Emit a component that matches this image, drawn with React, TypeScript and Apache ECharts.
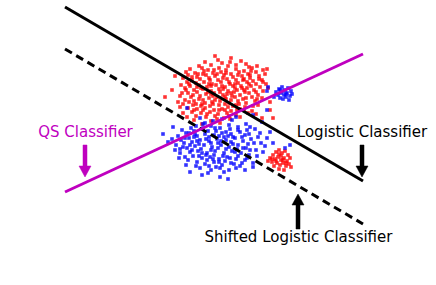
import React, { useEffect, useRef } from "react";
import * as echarts from "echarts";

// Point clouds, in picture units (x right, y down)
const redMain: number[][] = [
  [215,56],[231,58],[205,62],[222,63],[241,61],[199,66],[211,65],[228,66],[246,64],[257,66],
  [190,69],[202,68],[208,70],[219,68],[226,70],[236,69],[244,71],[252,68],[263,70],[267,69],
  [186,72],[195,73],[204,71],[213,73],[221,72],[231,74],[239,72],[248,74],[256,72],[265,74],
  [175,76],[188,75],[197,77],[206,75],[215,76],[224,75],[233,77],[242,76],[250,78],[259,76],
  [183,78],[192,80],[200,79],[209,78],[218,80],[227,79],[236,80],[244,79],[253,81],[262,80],
  [187,82],[196,83],[204,82],[212,84],[221,82],[230,84],[238,83],[247,82],[256,84],[263,82],
  [181,85],[190,86],[199,85],[207,87],[216,85],[225,87],[233,86],[242,88],[251,86],[260,87],
  [172,90],[185,88],[194,90],[203,89],[211,91],[219,89],[228,91],[237,90],[245,92],[254,90],[268,88],
  [188,93],[197,92],[206,94],[214,93],[223,95],[231,93],[240,95],[249,93],[258,95],
  [180,96],[191,97],[200,96],[209,98],[217,97],[226,99],[235,97],[243,99],[252,97],[262,98],
  [165,97],[185,100],[194,101],[203,100],[212,102],[220,101],[229,103],[238,101],[246,103],[255,101],[270,102],
  [183,104],[193,105],[202,104],[210,106],[219,105],[228,107],[236,105],[245,107],[258,105],
  [188,108],[197,109],[205,108],[214,110],[222,109],[231,111],[240,109],[252,111],
  [180,107],[192,112],[201,113],[210,112],[218,114],[227,113],[236,115],[248,113],[270,110],
  [183,113],[196,116],[206,117],[215,116],[224,118],[240,117],[256,114],
  [194,120],[211,121],[230,119],[262,118],[273,118],[202,124],[220,123],
  [198,74],[210,80],[222,86],[234,92],[246,98],[201,88],[213,96],[225,104],[237,110],[249,84],
  [217,74],[229,82],[241,86],[205,103],[193,95],[189,84],[219,110],[231,100],[243,80],[253,106],
  [211,86],[223,78],[235,88],[208,92],[196,104],[227,94],[239,104],[215,100],[203,110],[250,75],
  [192,77],[203,74],[214,70],[226,73],[238,75],[251,71],[259,79],[186,90],[197,87],[209,84],
  [220,92],[232,96],[244,90],[256,92],[199,99],[211,94],[223,89],[235,84],[247,88],[257,99],
  [189,102],[201,106],[213,104],[225,97],[233,106],[244,110],[207,114],[217,119],[229,116],[194,110],
  [263,91],[266,84],[230,62],[218,60],[236,65],[249,67],[182,93],[178,102],[187,117],[225,110],
];

const redSmall: number[][] = [
  [270,158],[273,155],[276,152],[279,150],[282,153],[285,151],[288,155],[272,162],[275,159],[278,157],
  [281,160],[284,158],[287,161],[290,158],[274,166],[277,163],[280,165],[283,163],[286,166],[289,164],
  [279,169],[284,170],[291,167],[268,161],[281,156],[276,161],[283,160],[279,154],[286,163],[272,159],
];

const blueMain: number[][] = [
  [163,134],[173,127],[182,130],[187,108],[200,118],[213,121],[222,119],[236,117],[253,115],[262,122],[267,110],[268,87],[267,91],
  [178,136],[186,133],[194,131],[203,128],[211,126],[220,128],[229,125],[238,127],[246,124],[255,129],
  [181,140],[189,138],[197,136],[205,134],[214,135],[222,133],[231,134],[240,132],[249,134],[258,137],[267,138],
  [176,145],[184,143],[192,142],[200,140],[209,141],[217,139],[226,140],[235,138],[243,141],[251,139],[261,143],[273,143],
  [187,148],[195,146],[204,145],[212,147],[221,145],[229,147],[238,145],[246,148],[256,150],
  [180,153],[190,152],[198,151],[207,153],[215,151],[224,153],[232,151],[241,153],[249,155],[285,148],[290,145],
  [179,158],[185,157],[193,156],[202,158],[210,157],[219,159],[227,157],[236,159],[245,160],[253,163],
  [197,162],[205,164],[214,162],[222,165],[231,163],[240,166],
  [200,168],[211,170],[220,168],[229,170],[245,170],[253,167],
  [202,175],[208,173],[220,177],[228,179],[190,172],
  [196,126],[208,131],[219,136],[231,142],[243,148],[199,144],[211,150],[223,156],[235,152],[194,137],
  [206,139],[218,143],[230,129],[242,137],[189,133],[213,159],[225,161],[201,149],[216,131],[228,136],
  [238,156],[206,155],[218,148],[192,150],[233,144],[248,144],[183,147],[224,137],[211,143],[199,156],
  [257,156],[263,152],[270,132],[265,146],[247,130],[234,164],[216,167],[186,165],[175,150],[168,142],
  [191,128],[203,124],[215,128],[226,132],[238,130],[250,127],[185,138],[197,141],[209,137],[221,141],
  [233,137],[245,135],[254,143],[180,149],[190,145],[202,153],[214,155],[226,149],[237,149],[250,150],
  [188,160],[196,166],[207,160],[219,162],[230,158],[242,163],[209,166],[224,172],[236,168],[195,134],
  [247,158],[260,133],[172,139],[205,123],[232,120],
];

const blueSmall: number[][] = [
  [276,92],[279,89],[282,87],[285,90],[288,88],[291,91],[278,95],[281,93],[284,95],[287,93],
  [290,96],[280,98],[283,99],[286,97],[289,100],[274,97],[292,94],[283,91],[280,90],[286,94],
];

// Classifier lines (end points)
const logisticLine: number[][] = [[65, 7], [363, 181]];
const shiftedLine: number[][] = [[65, 49], [363, 224]];
const qsLine: number[][] = [[65, 192], [363, 54]];

// Annotation arrows: [x, tail y, tip y, colour index]
const arrows: number[][] = [
  [85, 145, 177, 0],
  [362, 145, 177, 1],
  [298, 229, 194, 1],
];
const arrowColors = ["#BF00BF", "#000000"];

const labels = [
  { text: "QS Classifier", x: 85.5, y: 132, color: "#BF00BF" },
  { text: "Logistic Classifier", x: 362, y: 132, color: "#000000" },
  { text: "Shifted Logistic Classifier", x: 298.5, y: 237, color: "#000000" },
];

const W = 436;
const H = 285;

export default function App() {
  const ref = useRef<HTMLDivElement>(null);
  useEffect(() => {
    if (!ref.current) return;
    const chart = echarts.init(ref.current, undefined, { renderer: "svg" });
    const scatter = (data: number[][], color: string) => ({
      type: "scatter",
      data,
      symbol: "rect",
      symbolSize: 3.6,
      itemStyle: { color },
      silent: true,
    });
    const line = (data: number[][], color: string, dashed: boolean) => ({
      type: "line",
      data,
      symbol: "none",
      lineStyle: { color, width: 3, type: dashed ? [8, 5] : "solid", cap: "butt" },
      silent: true,
    });
    chart.setOption({
      animation: false,
      grid: { left: 0, top: 0, right: 0, bottom: 0 },
      xAxis: { type: "value", min: 0, max: W, show: false },
      yAxis: { type: "value", min: 0, max: H, inverse: true, show: false },
      series: [
        scatter(redMain, "#FF0000"),
        scatter(redSmall, "#FF0000"),
        scatter(blueMain, "#0000FF"),
        scatter(blueSmall, "#0000FF"),
        line(logisticLine, "#000000", false),
        line(shiftedLine, "#000000", true),
        line(qsLine, "#BF00BF", false),
        {
          type: "custom",
          data: arrows,
          silent: true,
          renderItem: (params: any, api: any) => {
            const x = api.value(0);
            const y0 = api.value(1);
            const y1 = api.value(2);
            const c = arrowColors[api.value(3)];
            const p0 = api.coord([x, y0]);
            const p1 = api.coord([x, y1]);
            const dir = p1[1] > p0[1] ? 1 : -1;
            const headLen = 11;
            const headW = 6;
            const shaftW = 2;
            const hb = p1[1] - dir * headLen;
            const cx = p0[0];
            return {
              type: "polygon",
              shape: {
                points: [
                  [cx - shaftW, p0[1]],
                  [cx + shaftW, p0[1]],
                  [cx + shaftW, hb],
                  [cx + headW, hb],
                  [cx, p1[1]],
                  [cx - headW, hb],
                  [cx - shaftW, hb],
                ],
              },
              style: { fill: c, stroke: c, lineWidth: 0.5 },
            };
          },
        },
      ],
      graphic: labels.map((l) => ({
        type: "text",
        x: l.x,
        y: l.y,
        style: {
          text: l.text,
          fill: l.color,
          font: "15px 'DejaVu Sans'",
          align: "center",
          verticalAlign: "middle",
        },
      })),
    });
    return () => chart.dispose();
  }, []);
  return (
    <div
      ref={ref}
      style={{ position: "absolute", left: 0, top: 0, width: W, height: H, background: "#fff" }}
    />
  );
}
